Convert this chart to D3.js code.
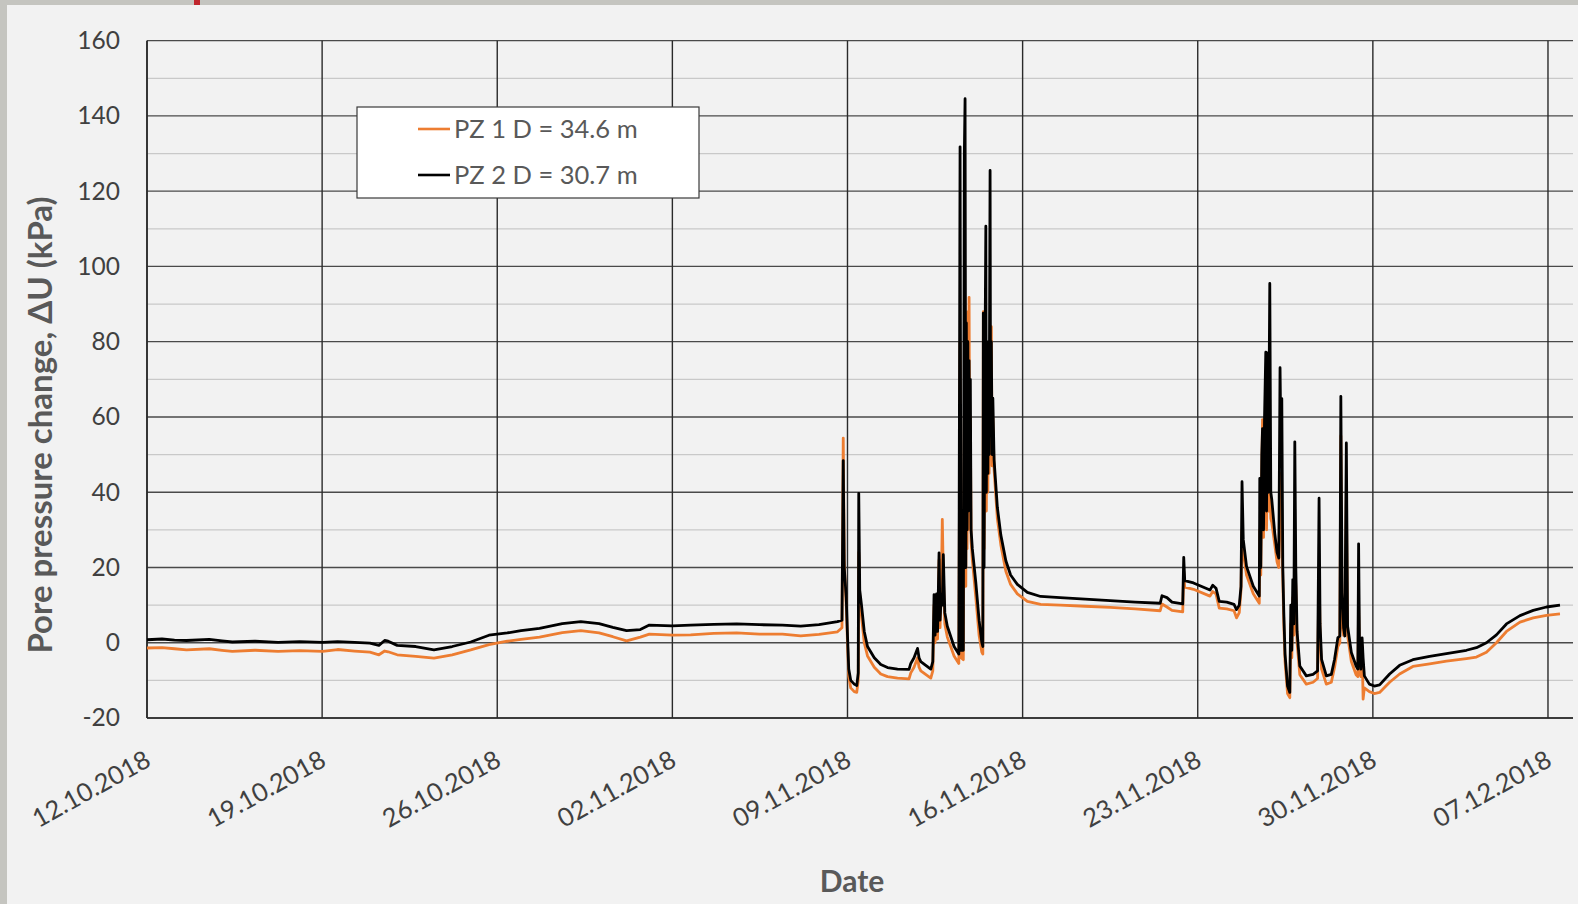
<!DOCTYPE html>
<html>
<head>
<meta charset="utf-8">
<script src="https://cdn.jsdelivr.net/npm/d3@7"></script>
<style>
  html, body { margin: 0; padding: 0; background: #c5c5c0; }
  svg { display: block; }
  text { font-family: Lato, "Open Sans", sans-serif; }
</style>
</head>
<body>
<svg id="chart" width="1578" height="904"></svg>
<script>
// ---- data -------------------------------------------------------------
// Elapsed time since 12.10.2018 00:00, in days
const elapsedDays = [
  0.00, 0.60, 1.10, 1.58, 2.49, 3.00, 3.41, 4.32, 5.24, 6.10,
  7.02, 7.62, 8.30, 8.91, 9.27, 9.50, 9.64, 10.00, 10.74, 11.47,
  12.20, 12.94, 13.67, 14.40, 14.95, 15.69, 16.60, 17.34, 18.07, 18.62,
  19.17, 19.72, 20.08, 21.00, 21.73, 22.65, 23.57, 24.48, 25.40, 26.13,
  26.86, 27.60, 27.78,
  27.83, 27.87, 27.91, 27.95, 28.00, 28.05, 28.13, 28.27, 28.37, 28.43,
  28.45, 28.49, 28.56, 28.67, 28.80, 29.07, 29.33, 29.60, 30.00, 30.46,
  30.53, 30.66, 30.80, 30.86, 30.93, 31.33, 31.41, 31.46, 31.50, 31.56,
  31.60, 31.66, 31.70, 31.75, 31.79, 31.83, 31.89, 31.99, 32.26, 32.45,
  32.50, 32.54, 32.63, 32.67, 32.70, 32.73, 32.75, 32.78, 32.81, 32.83,
  32.86, 32.89, 32.91, 32.94, 32.99, 33.13, 33.26, 33.37, 33.41, 33.43,
  33.46, 33.49, 33.53, 33.55, 33.58, 33.61, 33.63, 33.66, 33.70, 33.72,
  33.75, 33.78, 33.81, 33.86, 33.99, 34.13, 34.33, 34.52, 34.79, 35.19,
  35.72,
  36.50, 37.50, 38.50, 39.50, 40.50, 40.57, 40.77, 40.97, 41.40, 41.44,
  41.48, 41.83, 42.49, 42.60, 42.73, 42.86, 43.16, 43.45, 43.55, 43.66,
  43.73, 43.77, 43.82, 43.95, 44.22, 44.46, 44.48, 44.52, 44.56, 44.59,
  44.63, 44.67, 44.72, 44.75, 44.78, 44.82, 44.88, 44.92, 44.96, 45.08,
  45.17, 45.24, 45.29, 45.33, 45.36, 45.40, 45.44, 45.49, 45.59, 45.68,
  45.72, 45.76, 45.80, 45.84, 45.88, 45.92, 45.97, 46.08, 46.34, 46.61,
  46.79, 46.85, 46.89, 46.95, 47.14, 47.34, 47.47, 47.60, 47.68, 47.72,
  47.77, 47.83, 47.88, 47.94, 47.99, 48.14, 48.33, 48.40, 48.43, 48.47,
  48.52, 48.57, 48.61, 48.66, 48.86, 49.06, 49.27,
  49.67, 50.07, 50.60, 51.27, 51.94, 52.74, 53.14, 53.54, 53.94, 54.34,
  54.88, 55.41, 55.94, 56.48
];

// PZ 1, depth 34.6 m: pore pressure change (kPa)
const pz1 = [
  -1.4, -1.3, -1.6, -1.9, -1.6, -2.0, -2.3, -2.0, -2.3, -2.1,
  -2.3, -1.8, -2.2, -2.5, -3.2, -2.2, -2.4, -3.2, -3.6, -4.1,
  -3.2, -1.9, -0.5, 0.4, 0.9, 1.5, 2.7, 3.2, 2.6, 1.6,
  0.5, 1.5, 2.3, 2.0, 2.1, 2.5, 2.6, 2.3, 2.3, 1.8,
  2.2, 2.9, 4.0,
  54.4, 22, 15, 10, 0, -9, -12, -13, -13.2, -10,
  24, 12, 7, 0, -3.5, -6.5, -8.3, -9, -9.4, -9.6,
  -8, -6.5, -4, -6.5, -7.5, -9.4, -7.5, 10, 0, 11,
  1, 22, 4, 15, 32.8, 18, 5, 1.5, -3.5, -5.5,
  80, -4, -4.5, 60, 85, 15, 82, 25, 88, 30,
  91.8, 35, 60, 27, 22, 12, 2, -2.5, -3, 88,
  25, 60, 75, 35, 70, 40, 72, 45, 80, 50,
  84, 47, 60, 46, 33, 26, 19, 15.5, 13, 11,
  10.2,
  10.0, 9.7, 9.4, 9.0, 8.5, 10.3, 9.5, 8.6, 8.2, 19,
  14.8, 14.2, 12.4, 13.6, 13.0, 9.2, 9.0, 8.5, 6.6, 8.0,
  14, 30, 24, 18, 13, 10.5, 30, 18, 45, 59.3,
  28, 50, 55, 30, 50, 35, 45, 33, 32, 26,
  21.5, 20, 45, 40, 30, 17, 5, -5, -13.5, -14.6,
  5, -4, 12, 2, 20, 15, 0, -8.5, -11, -10.5,
  -9.5, 20, 2, -7, -11, -10.5, -6.5, -1, 0, 55,
  5, 2, 3, 40, 2, -5, -8.5, -9, 10, -7,
  -9, -1, -15, -12, -13, -13.5, -13.2,
  -10.5, -8.3, -6.3, -5.6, -4.9, -4.2, -3.8, -2.5, 0.0, 3.0,
  5.5, 6.6, 7.3, 7.7
];

// PZ 2, depth 30.7 m: pore pressure change (kPa)
const pz2 = [
  0.8, 1.0, 0.7, 0.6, 0.9, 0.5, 0.2, 0.4, 0.1, 0.3,
  0.1, 0.3, 0.1, -0.1, -0.7, 0.6, 0.4, -0.7, -1.0, -1.9,
  -1.0, 0.2, 2.0, 2.6, 3.2, 3.8, 5.1, 5.6, 5.1, 4.1,
  3.2, 3.5, 4.7, 4.5, 4.7, 4.9, 5.0, 4.8, 4.7, 4.4,
  4.8, 5.6, 6.0,
  48.4, 20, 16, 12, 2, -7, -10, -11, -11.4, -8,
  39.7, 14, 10, 3, -1, -4, -5.8, -6.6, -7, -7.1,
  -5.5, -4, -1.5, -4, -5, -7, -5, 12.8, 2, 13,
  3, 23.9, 6, 13, 10, 23.4, 8, 4.4, -1, -3,
  131.8, -2, -2, 130, 144.6, 20, 85, 30, 80, 35,
  75, 40, 70, 30, 25, 16, 6, 0, -1, 87.6,
  20, 70, 110.7, 40, 80, 45, 75, 50, 125.5, 55,
  80, 50, 65, 48.6, 36, 28.6, 21.8, 18, 15.5, 13.4,
  12.3,
  12.0, 11.6, 11.2, 10.8, 10.5, 12.5, 12.0, 10.8, 10.3, 22.7,
  16.5, 15.9, 14.0, 15.3, 14.5, 11.0, 10.8, 10.2, 8.8, 10.0,
  15, 42.8, 27.4, 20.3, 15, 12.4, 43.7, 20, 50, 56.9,
  30, 60, 77.2, 35, 77, 40, 95.5, 40, 38, 29,
  24, 22.5, 73.1, 50, 64.9, 20, 8, -3, -11.5, -13.2,
  10, -2, 16.8, 5, 53.4, 20, 3, -6.2, -8.8, -8.4,
  -7.5, 38.4, 5, -4.4, -8.8, -8.4, -4.4, 1.3, 1.8, 65.5,
  13.2, 4, 1.8, 53.1, 4.4, -2.6, -6.2, -7, 26.3, -3,
  -7, 1.3, -4, -8.8, -11, -11.5, -11.2,
  -8.3, -6.0, -4.5, -3.6, -2.9, -2.0, -1.3, 0.0, 2.1, 5.0,
  7.2, 8.6, 9.5, 10.0
];

const dateLabels = ["12.10.2018", "19.10.2018", "26.10.2018", "02.11.2018", "09.11.2018",
                    "16.11.2018", "23.11.2018", "30.11.2018", "07.12.2018"];
const yMajorTicks = [-20, 0, 20, 40, 60, 80, 100, 120, 140, 160];
const yMinorTicks = [-10, 10, 30, 50, 70, 90, 110, 130, 150];
const seriesNames = ["PZ 1 D = 34.6 m", "PZ 2 D = 30.7 m"];
const seriesColors = ["#ed7d31", "#000000"];

// ---- layout -----------------------------------------------------------
const W = 1578, H = 904;
const plot = { left: 147, right: 1573, top: 40.7, bottom: 718 };

const parseLabel = d3.utcParse("%d.%m.%Y");
const t0 = parseLabel(dateLabels[0]);
const tEnd = d3.utcDay.offset(parseLabel(dateLabels[dateLabels.length - 1]), 1);
const toDate = d => new Date(t0.getTime() + d * 864e5);

const x = d3.scaleUtc().domain([t0, tEnd]).range([plot.left, plot.right]);
const y = d3.scaleLinear().domain([-20, 160]).range([plot.bottom, plot.top]);

const svg = d3.select("#chart");

// outer frame and panel
svg.append("rect").attr("x", 0).attr("y", 0).attr("width", W).attr("height", H).attr("fill", "#c5c5c0");
svg.append("rect").attr("x", 7).attr("y", 5).attr("width", W - 7).attr("height", H - 5).attr("fill", "#f2f2f2");
svg.append("rect").attr("x", 194).attr("y", 0).attr("width", 6).attr("height", 5).attr("fill", "#c0262d");

// minor horizontal grid
svg.append("g")
  .selectAll("line").data(yMinorTicks).join("line")
  .attr("x1", plot.left).attr("x2", plot.right)
  .attr("y1", d => y(d)).attr("y2", d => y(d))
  .attr("stroke", "#c9c9c9").attr("stroke-width", 1.2);

// major horizontal grid
svg.append("g")
  .selectAll("line").data(yMajorTicks).join("line")
  .attr("x1", plot.left).attr("x2", plot.right)
  .attr("y1", d => y(d)).attr("y2", d => y(d))
  .attr("stroke", "#4a4a4a").attr("stroke-width", 1.3);

// vertical grid (one line per week)
const tickDates = dateLabels.map(parseLabel);
svg.append("g")
  .selectAll("line").data(tickDates).join("line")
  .attr("x1", d => x(d)).attr("x2", d => x(d))
  .attr("y1", plot.top).attr("y2", plot.bottom)
  .attr("stroke", "#2a2a2a").attr("stroke-width", 1.4);

// axes lines
svg.append("line").attr("x1", plot.left).attr("x2", plot.left)
  .attr("y1", plot.top).attr("y2", plot.bottom).attr("stroke", "#2a2a2a").attr("stroke-width", 1.6);
svg.append("line").attr("x1", plot.left).attr("x2", plot.right)
  .attr("y1", plot.bottom).attr("y2", plot.bottom).attr("stroke", "#2a2a2a").attr("stroke-width", 1.6);

// y tick labels (plain hyphen for negatives)
const yAxis = d3.axisLeft(y).tickValues(yMajorTicks).tickSize(0).tickPadding(27)
  .tickFormat(d => String(d));
const gy = svg.append("g").attr("transform", `translate(${plot.left},0)`).call(yAxis);
gy.select(".domain").remove();
gy.selectAll("text").attr("font-family", "Lato, sans-serif").attr("font-size", 24.5).attr("fill", "#404040");

// x tick labels, rotated
const xAxis = d3.axisBottom(x).tickValues(tickDates).tickSize(0).tickFormat((d, i) => dateLabels[i]);
const gx = svg.append("g").attr("transform", `translate(0,${plot.bottom})`).call(xAxis);
gx.select(".domain").remove();
gx.selectAll("text")
  .attr("font-family", "Lato, sans-serif").attr("font-size", 25.5).attr("fill", "#404040")
  .attr("text-anchor", "end").attr("dy", null).attr("y", null)
  .attr("transform", "translate(5,47) rotate(-29)");

// series
const series = [pz1, pz2].map((vals, k) => ({
  name: seriesNames[k],
  color: seriesColors[k],
  points: elapsedDays.map((d, i) => ({ t: toDate(d), v: vals[i] }))
}));

const line = d3.line().x(p => x(p.t)).y(p => y(p.v));
svg.append("g")
  .selectAll("path").data(series).join("path")
  .attr("d", s => line(s.points))
  .attr("fill", "none")
  .attr("stroke", s => s.color)
  .attr("stroke-width", 2.8)
  .attr("stroke-linejoin", "round");

// legend
const lg = svg.append("g");
lg.append("rect").attr("x", 357).attr("y", 107).attr("width", 342).attr("height", 91)
  .attr("fill", "#ffffff").attr("stroke", "#3a3a3a").attr("stroke-width", 1.2);
series.forEach((s, i) => {
  const cy = 129 + i * 46;
  lg.append("line").attr("x1", 418).attr("x2", 450).attr("y1", cy).attr("y2", cy)
    .attr("stroke", s.color).attr("stroke-width", 2.6);
  lg.append("text").attr("x", 454).attr("y", cy + 9)
    .attr("font-size", 25.5).attr("fill", "#595959").text(s.name);
});

// axis titles
svg.append("text")
  .attr("transform", "translate(52,425) rotate(-90)")
  .attr("text-anchor", "middle")
  .attr("font-size", 33).attr("font-weight", "bold").attr("fill", "#595959")
  .text("Pore pressure change, ΔU (kPa)");

svg.append("text")
  .attr("x", 852).attr("y", 892)
  .attr("text-anchor", "middle")
  .attr("font-size", 30).attr("font-weight", "bold").attr("fill", "#595959")
  .text("Date");
</script>
</body>
</html>
